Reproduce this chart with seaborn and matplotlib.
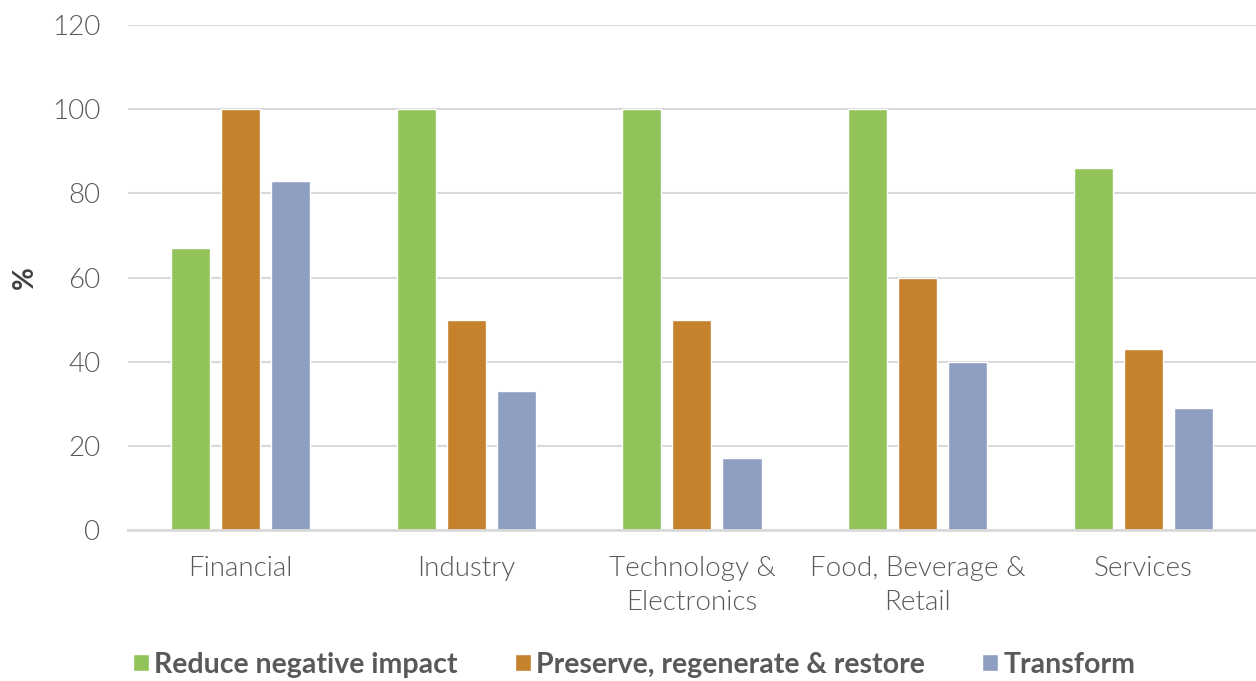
import matplotlib.pyplot as plt
import numpy as np
import seaborn as sns
import pandas as pd

# dati
sectors = ['Financial', 'Industry', 'Technology &\nElectronics', 'Food, Beverage &\nRetail', 'Services']
reduce_impact = [67, 100, 100, 100, 86]
preserve = [100, 50, 50, 60, 43]
transform = [83, 33, 17, 40, 29]
series = ['Reduce negative impact', 'Preserve, regenerate & restore', 'Transform']
colors = ['#92C35B', '#C5812B', '#8E9FC1']

df = pd.DataFrame({
    'sector': sectors * 3,
    'value': reduce_impact + preserve + transform,
    'serie': [s for s in series for _ in sectors],
})

sns.set_style('white')
plt.rcParams['font.family'] = ['Lato', 'DejaVu Sans']

fig = plt.figure(figsize=(12.56, 6.81), dpi=100)
ax = fig.add_axes([0.1019, 0.2217, 0.8981, 0.7416])

sns.barplot(data=df, x='sector', y='value', hue='serie', palette=colors,
            width=0.665, gap=0.22, saturation=1, ax=ax, legend=True)

ax.set_ylim(0, 120)
ax.set_yticks(np.arange(0, 121, 20))
ax.set_xlim(-0.5, 4.5)
ax.yaxis.grid(True, color='#D9D9D9', linewidth=1.5)
ax.set_axisbelow(True)
for s in ['top', 'right', 'left']:
    ax.spines[s].set_visible(False)
ax.spines['bottom'].set_color('#D9D9D9')
ax.spines['bottom'].set_linewidth(2)
ax.tick_params(axis='both', length=0, labelsize=20, colors='#595959')
ax.tick_params(axis='y', pad=20)
ax.tick_params(axis='x', pad=19)
for lbl in ax.get_xticklabels() + ax.get_yticklabels():
    lbl.set_fontweight(300)
for lbl in ax.get_xticklabels():
    lbl.set_linespacing(1.45)
ax.set_xlabel('')
ax.set_ylabel('%', fontsize=20, fontweight='bold', color='#404040', labelpad=10)

handles, labels = ax.get_legend_handles_labels()
ax.legend_.remove()
fig.legend(handles, labels, loc='center', bbox_to_anchor=(0.505, 0.024), ncol=3,
           frameon=False, prop={'weight': 'bold', 'size': 20.5},
           labelcolor='#595959', handlelength=0.55, handleheight=0.55,
           handletextpad=0.2, columnspacing=2.0)

plt.savefig('out.png', dpi=100)
plt.close()
